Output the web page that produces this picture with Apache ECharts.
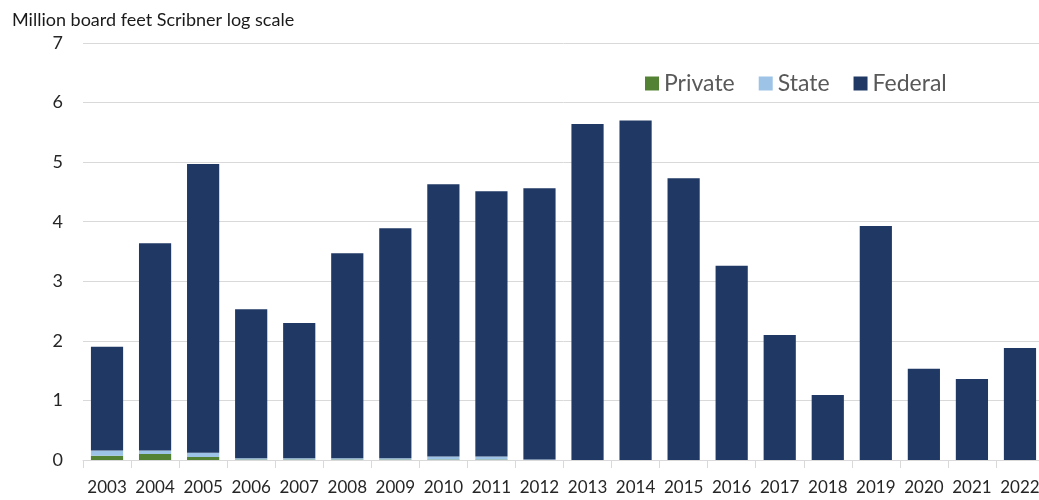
<!DOCTYPE html>
<html><head><meta charset="utf-8">
<script src="https://cdn.jsdelivr.net/npm/echarts@6/dist/echarts.min.js"></script>
<style>html,body{margin:0;padding:0;background:#fff;overflow:hidden}#c{width:1044px;height:500px}</style>
</head><body><div id="c"></div>
<script>
const years = ['2003','2004','2005','2006','2007','2008','2009','2010','2011','2012','2013','2014','2015','2016','2017','2018','2019','2020','2021','2022'];
const privateVals = [0.07,0.10,0.05,0.01,0.01,0.01,0.01,0.01,0.01,0,0,0,0,0,0,0,0,0,0,0];
const stateVals   = [0.09,0.06,0.07,0.02,0.02,0.02,0.02,0.05,0.05,0.01,0,0,0,0,0,0,0,0,0,0];
const federalVals = [1.74,3.48,4.85,2.50,2.27,3.44,3.86,4.57,4.45,4.55,5.64,5.70,4.73,3.26,2.10,1.09,3.93,1.53,1.36,1.88];
const yTicks = [0,1,2,3,4,5,6,7];
const font = "Lato, 'Open Sans', sans-serif";
const chart = echarts.init(document.getElementById('c'));
chart.setOption({
  animation:false,
  title:{text:'Million board feet Scribner log scale',left:7,top:6,textStyle:{fontFamily:font,fontSize:18,fontWeight:'normal',color:'#1a1a1a'}},
  legend:{data:['Private','State','Federal'],left:640,top:67,itemWidth:14,itemHeight:14,itemGap:24,icon:'rect',
    textStyle:{fontFamily:font,fontSize:23,color:'#595959'}},
  grid:{left:83,right:0,top:43,bottom:40},
  xAxis:{type:'category',data:years,
    axisLine:{lineStyle:{color:'#d9d9d9'}},
    axisTick:{show:true,length:8,lineStyle:{color:'#d9d9d9'}},
    axisLabel:{fontFamily:font,fontSize:17,color:'#262626',margin:19,interval:0}},
  yAxis:{type:'value',min:yTicks[0],max:yTicks[yTicks.length-1],interval:1,
    axisLine:{show:false},axisTick:{show:false},
    splitLine:{lineStyle:{color:'#d9d9d9'}},
    axisLabel:{fontFamily:font,fontSize:18,color:'#262626',margin:20}},
  series:[
    {name:'Private',type:'bar',stack:'a',data:privateVals,barCategoryGap:'33%',itemStyle:{color:'#548235'}},
    {name:'State',type:'bar',stack:'a',data:stateVals,itemStyle:{color:'#9dc3e6'}},
    {name:'Federal',type:'bar',stack:'a',data:federalVals,itemStyle:{color:'#203864'}}
  ]
});
</script></body></html>
